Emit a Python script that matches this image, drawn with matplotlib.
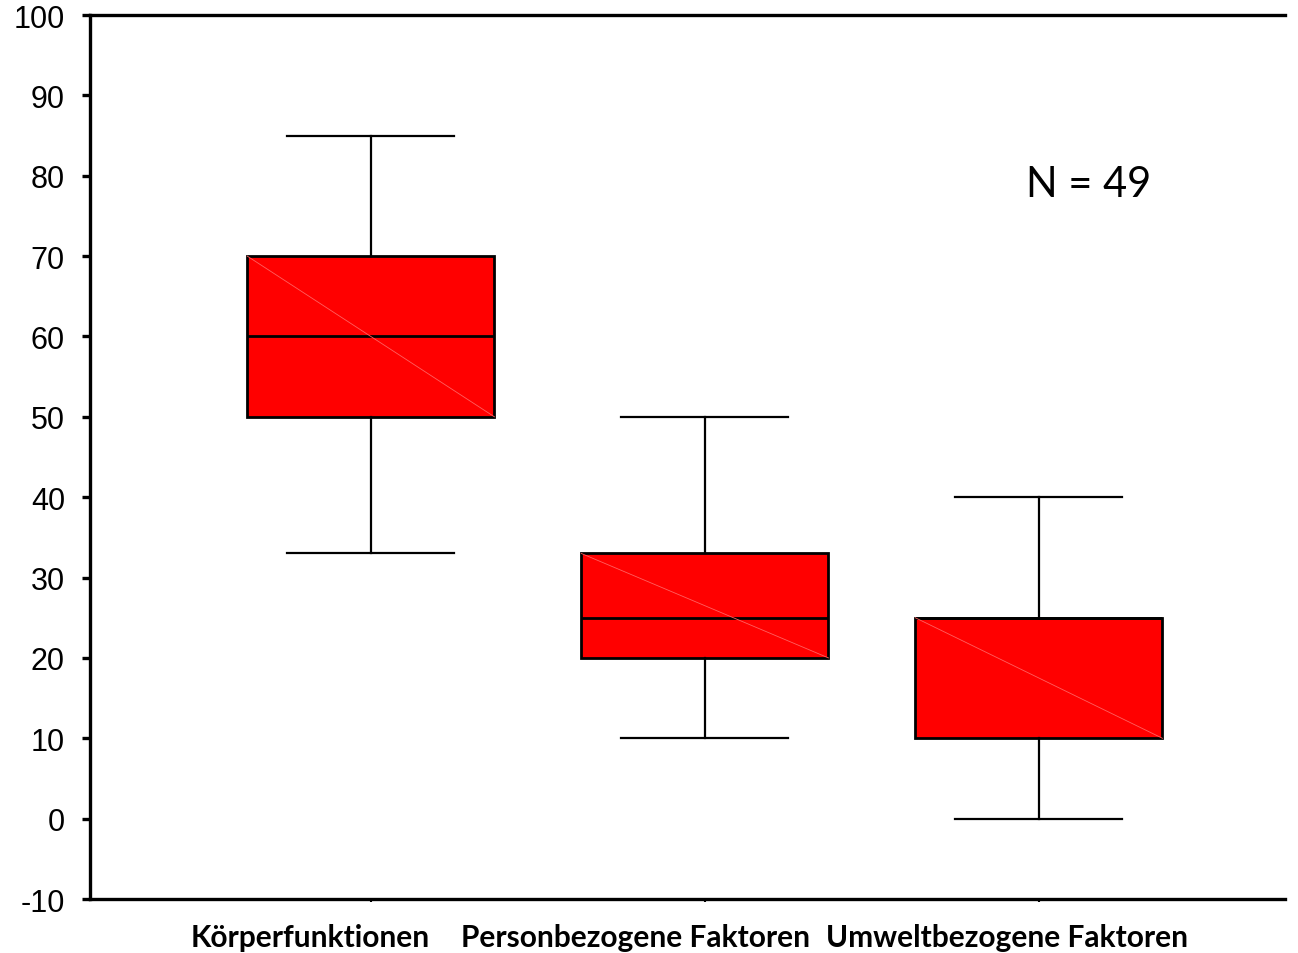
import matplotlib
matplotlib.use("Agg")
import matplotlib.pyplot as plt

plt.rcParams["axes.unicode_minus"] = False

# Box summary values per ICF domain
categories = ["Körperfunktionen", "Personbezogene Faktoren", "Umweltbezogene Faktoren"]
whisker_low = [33, 10, 0]
q1 = [50, 20, 10]
median = [60, 25, 25]
q3 = [70, 33, 25]
whisker_high = [85, 50, 40]
n_label = "N = 49"

stats = []
for i, name in enumerate(categories):
    stats.append(dict(label=name, whislo=whisker_low[i], q1=q1[i], med=median[i],
                      q3=q3[i], whishi=whisker_high[i], fliers=[]))

fig = plt.figure(figsize=(12.98, 9.54), dpi=100)
ax = fig.add_axes([0.0693, 0.0566, 0.9207, 0.9266])

positions = [1, 2, 3]
ax.bxp(stats, positions=positions, widths=0.74, patch_artist=True, showfliers=False,
       boxprops=dict(facecolor="#ff0000", edgecolor="black", linewidth=2.0),
       medianprops=dict(color="black", linewidth=2.0),
       whiskerprops=dict(color="black", linewidth=1.6),
       capprops=dict(color="black", linewidth=1.6),
       capwidths=0.5)

# faint diagonal seen across each filled box
for p, lo, hi in zip(positions, q1, q3):
    ax.plot([p - 0.37, p + 0.37], [hi, lo], color="#ff6060", lw=0.6, zorder=3)

ax.set_xlim(0.159, 3.737)
ax.set_ylim(-10, 100)
ax.set_yticks(range(-10, 101, 10))
ax.set_xticks(positions)
ax.set_xticklabels([])

# category labels sit a little left of their ticks
shifts_pt = [-44, -50, -23]
for p, name, dx in zip(positions, categories, shifts_pt):
    ax.annotate(name, xy=(p, 0), xycoords=("data", "axes fraction"),
                xytext=(dx, -27.5), textcoords="offset points",
                ha="center", va="center", fontfamily="Lato", fontweight="bold",
                fontsize=21.5, annotation_clip=False)

for s in ["left", "top", "bottom"]:
    ax.spines[s].set_linewidth(2.4)
ax.spines["right"].set_visible(False)

ax.tick_params(axis="y", direction="out", length=6, width=2.4, labelsize=22, pad=12)
ax.tick_params(axis="x", direction="out", length=2, width=1.5)
for lbl in ax.get_yticklabels():
    lbl.set_fontfamily("Liberation Sans")

ax.text(3.15, 79.0, n_label, fontsize=30, fontfamily="Lato", ha="center", va="center")

fig.savefig("out.png", dpi=100)
